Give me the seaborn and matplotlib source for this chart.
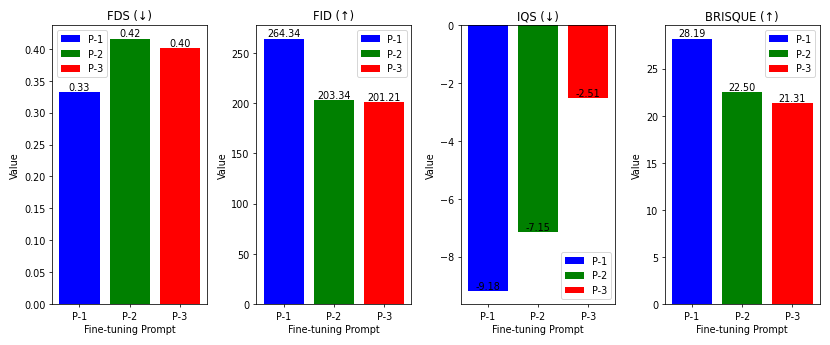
import matplotlib
matplotlib.use("Agg")
import matplotlib.pyplot as plt
import seaborn as sns
import pandas as pd

prompts = ["P-1", "P-2", "P-3"]
colors = ["blue", "green", "red"]
titles = ["FDS (↓)", "FID (↑)", "IQS (↓)", "BRISQUE (↑)"]
fds = [0.332, 0.416, 0.401]
fid = [264.34, 203.34, 201.21]
iqs = [-9.18, -7.15, -2.51]
brisque = [28.19, 22.50, 21.31]
series = [fds, fid, iqs, brisque]
legend_locs = ["upper left", "upper right", "lower right", "upper right"]

DPI = 830 / 12
fig, axes = plt.subplots(1, 4, figsize=(12, 5), dpi=DPI)
for ax, title, vals, loc in zip(axes, titles, series, legend_locs):
    df = pd.DataFrame({"Fine-tuning Prompt": prompts, "Value": vals})
    sns.barplot(data=df, x="Fine-tuning Prompt", y="Value", hue="Fine-tuning Prompt",
                palette=colors, saturation=1, dodge=False, ax=ax, legend=True,
                width=0.8)
    for i, v in enumerate(vals):
        ax.text(i, v, f"{v:.2f}", ha="center", va="bottom", fontsize=10)
    ax.set_xlim(-0.54, 2.54)
    ax.set_title(title, fontsize=12)
    ax.set_xlabel("Fine-tuning Prompt", fontsize=10)
    ax.set_ylabel("Value", fontsize=10)
    handles, labels = ax.get_legend_handles_labels()
    ax.legend(handles, labels, loc=loc, fontsize=10)

plt.tight_layout()
fig.savefig("out.png", dpi=DPI)
